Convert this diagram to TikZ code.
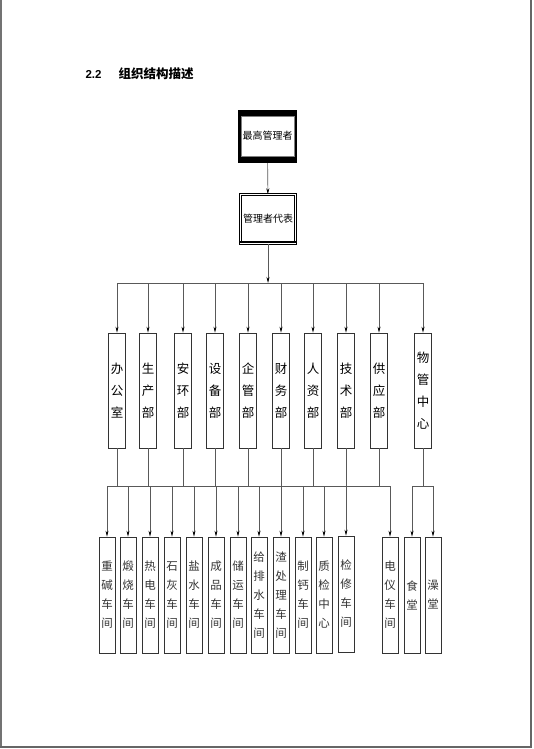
\documentclass[tikz,border=0pt]{standalone}
\usepackage{fontspec}
\setmainfont{Liberation Sans}
\newfontfamily\cjk{Noto Sans CJK SC}
\usetikzlibrary{arrows.meta}

\begin{document}
\begin{tikzpicture}[x=1pt, y=-1pt,
        deptbox/.style={rectangle, draw=black!80, line width=0.6pt, minimum width=16.5pt, minimum height=115pt, inner sep=0pt, align=center, font=\cjk\fontsize{12.5}{22}\selectfont},
        shopbox/.style={rectangle, draw=black!80, line width=0.6pt, minimum width=16pt, minimum height=116pt, inner sep=0pt, align=center, text=black!80, font=\cjk\fontsize{11.5}{19}\selectfont},
        conn/.style={draw=black!65, line width=0.6pt, -{Stealth[length=6pt, width=3pt, black]}},
        wire/.style={draw=black!65, line width=0.6pt}
    ]
        \useasboundingbox (0,0) rectangle (533,749);
        % page edge
        \draw[black!55, line width=1.2pt] (1,0) -- (1,747);
        \draw[black!60, line width=2pt] (531,0) -- (531,747) -- (0,747);

        \node[anchor=base west, font=\bfseries\fontsize{11.5}{13}\selectfont] (num) at (82,79) {2.2};
        \node[anchor=base west, font=\cjk\bfseries\fontsize{12.5}{14}\selectfont] (title) at (115,79) {组织结构描述};

        \node[fill=black, minimum width=59pt, minimum height=53pt, inner sep=0pt] (boss) at (267.5,136.5) {};
        \node[draw=black!50, fill=white, minimum width=53pt, minimum height=40pt, inner sep=0pt, font=\cjk\fontsize{10}{12}\selectfont] (bosslabel) at (267.5,136) {最高管理者};

        \node[draw=black, double, double distance=1.6pt, line width=0.5pt, minimum width=55pt, minimum height=49pt, inner sep=0pt, font=\cjk\fontsize{10}{12}\selectfont] (rep) at (268,219) {管理者代表};
        \draw[line width=2.2pt] ([yshift=2pt]rep.south west) -- ([yshift=2pt]rep.south east);

        \coordinate (bus) at (268,283);
        \coordinate (lowbus) at (268,486);

        % departments
        \node[deptbox] (d1) at (117,390.5) {办\\公\\室};
        \node[deptbox] (d2) at (148,390.5) {生\\产\\部};
        \node[deptbox] (d3) at (183,390.5) {安\\环\\部};
        \node[deptbox] (d4) at (215,390.5) {设\\备\\部};
        \node[deptbox] (d5) at (248,390.5) {企\\管\\部};
        \node[deptbox] (d6) at (281,390.5) {财\\务\\部};
        \node[deptbox] (d7) at (313,390.5) {人\\资\\部};
        \node[deptbox] (d8) at (346,390.5) {技\\术\\部};
        \node[deptbox] (d9) at (379,390.5) {供\\应\\部};
        \node[deptbox] (d10) at (423,390.5) {物\\管\\中\\心};

        % workshops
        \node[shopbox] (w1) at (107,595) {重\\碱\\车\\间};
        \node[shopbox] (w2) at (128,595) {煅\\烧\\车\\间};
        \node[shopbox] (w3) at (150,595) {热\\电\\车\\间};
        \node[shopbox] (w4) at (172,595) {石\\灰\\车\\间};
        \node[shopbox] (w5) at (194,595) {盐\\水\\车\\间};
        \node[shopbox] (w6) at (216,595) {成\\品\\车\\间};
        \node[shopbox] (w7) at (238,595) {储\\运\\车\\间};
        \node[shopbox] (w8) at (259,595) {给\\排\\水\\车\\间};
        \node[shopbox] (w9) at (281,595) {渣\\处\\理\\车\\间};
        \node[shopbox] (w10) at (303,595) {制\\钙\\车\\间};
        \node[shopbox] (w11) at (324,595) {质\\检\\中\\心};
        \node[shopbox] (w12) at (346,594) {检\\修\\车\\间};
        \node[shopbox] (w13) at (390,595) {电\\仪\\车\\间};
        \node[shopbox] (w14) at (412,595) {食\\堂};
        \node[shopbox] (w15) at (433,595) {澡\\堂};

        \draw[conn] (boss) -- (rep);
        \draw[conn] (rep) -- (bus);
        \draw[wire] (d1.north |- bus) -- (d10.north |- bus);
        \foreach \d in {1,...,10}
            \draw[conn] (d\d.north |- bus) -- (d\d.north);

        \foreach \d in {1,...,10}
            \draw[wire] (d\d.south) -- (d\d.south |- lowbus);
        \draw[wire] (w1.north |- lowbus) -- (w13.north |- lowbus);
        \draw[wire] (w14.north |- lowbus) -- (w15.north |- lowbus);
        \foreach \w in {1,...,15}
            \draw[conn] (w\w.north |- lowbus) -- (w\w.north);
    \end{tikzpicture}
\end{document}
